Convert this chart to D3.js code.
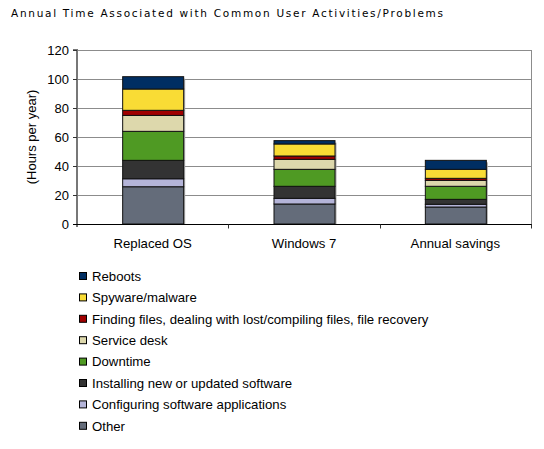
<!DOCTYPE html>
<html><head><meta charset="utf-8">
<script src="https://cdn.jsdelivr.net/npm/d3@7"></script>
<style>body{margin:0;background:#fff;} svg{display:block;}</style>
</head><body>
<script>
const categories = ["Replaced OS", "Windows 7", "Annual savings"];
const seriesNames = ["Other", "Configuring software applications", "Installing new or updated software", "Downtime", "Service desk", "Finding files, dealing with lost/compiling files, file recovery", "Spyware/malware", "Reboots"];
const other      = [25.7, 13.8, 11.7];
const configuring= [5.5, 3.9, 1.9];
const installing = [12.7, 8.3, 3.4];
const downtime   = [20.0, 11.7, 9.0];
const serviceDesk= [11.0, 6.9, 4.1];
const findingFiles=[3.5, 2.3, 1.4];
const spyware    = [14.7, 8.3, 6.2];
const reboots    = [8.5, 2.3, 6.2];
const yTicks = [0, 20, 40, 60, 80, 100, 120];
const colors = ["#646c7a", "#b4b4d8", "#333333", "#4f9a23", "#ddd8ac", "#a00000", "#f9dc35", "#002e62"];

const seriesValues = [other, configuring, installing, downtime, serviceDesk, findingFiles, spyware, reboots];
const table = categories.map((c, i) => {
  const row = {cat: c};
  seriesNames.forEach((s, j) => row[s] = seriesValues[j][i]);
  return row;
});

const W = 544, H = 449;
const m = {left: 77, right: 531, top: 50, bottom: 224};
const FONT = "Liberation Sans, Arial, sans-serif";
const svg = d3.select("body").append("svg").attr("width", W).attr("height", H);

const x = d3.scaleBand().domain(categories).range([m.left, m.right]).paddingInner(0).paddingOuter(0);
const y = d3.scaleLinear().domain([0, 120]).range([m.bottom, m.top]);

// title
svg.append("text").attr("x", 11).attr("y", 17)
  .attr("font-family", "DejaVu Sans, Verdana, sans-serif").attr("font-size", 10.5)
  .attr("textLength", 432).attr("lengthAdjust", "spacing").attr("fill", "#000")
  .text("Annual Time Associated with Common User Activities/Problems");

// gridlines
svg.append("g").selectAll("line").data(yTicks.filter(t => t > 0)).join("line")
  .attr("x1", m.left).attr("x2", m.right)
  .attr("y1", d => Math.round(y(d)) + 0.5).attr("y2", d => Math.round(y(d)) + 0.5)
  .attr("stroke", "#8c8c8c").attr("stroke-width", 1);
// right border
svg.append("line").attr("x1", m.right + 0.5).attr("x2", m.right + 0.5)
  .attr("y1", m.top).attr("y2", m.bottom).attr("stroke", "#8c8c8c");

// stacked bars
const stack = d3.stack().keys(seriesNames)(table);
const bw = 61;
const gBars = svg.append("g");
gBars.selectAll("rect.sh").data(table).join("rect").attr("class", "sh")
  .attr("x", d => x(d.cat) + x.bandwidth() / 2 - bw / 2 + 2)
  .attr("y", (d, i) => y(stack[stack.length - 1][i][1]) + 2)
  .attr("width", bw)
  .attr("height", (d, i) => m.bottom - y(stack[stack.length - 1][i][1]) - 2)
  .attr("fill", "#a8a8a8");
stack.forEach((s, j) => {
  gBars.append("g").selectAll("rect").data(s).join("rect")
    .attr("x", d => x(d.data.cat) + x.bandwidth() / 2 - bw / 2 + 0.5)
    .attr("y", d => y(d[1]))
    .attr("width", bw)
    .attr("height", d => y(d[0]) - y(d[1]))
    .attr("fill", colors[j]).attr("stroke", "#111").attr("stroke-width", 1);
});

// y axis
const yAxis = d3.axisLeft(y).tickValues(yTicks).tickSize(4).tickPadding(4);
const gy = svg.append("g").attr("transform", `translate(${m.left},0)`).call(yAxis);
gy.select(".domain").attr("stroke", "#777").attr("stroke-width", 2).attr("d", `M-4,${m.top}H0V${m.bottom + 3}`);
gy.selectAll(".tick line").attr("stroke", "#333");
gy.selectAll("text").attr("font-family", FONT).attr("font-size", 13).attr("fill", "#000");

// x axis
const gx = svg.append("g").attr("transform", `translate(0,${m.bottom + 0.5})`);
gx.append("line").attr("x1", m.left - 4).attr("x2", m.right + 1).attr("stroke", "#000");
gx.selectAll("line.t").data(categories).join("line").attr("class", "t")
  .attr("x1", d => Math.round(x(d) + x.bandwidth()) + 0.5).attr("x2", d => Math.round(x(d) + x.bandwidth()) + 0.5)
  .attr("y1", 0).attr("y2", 4).attr("stroke", "#333");
gx.selectAll("text").data(categories).join("text")
  .attr("x", d => x(d) + x.bandwidth() / 2).attr("y", 23)
  .attr("text-anchor", "middle").attr("font-family", FONT)
  .attr("font-size", 13.2).attr("fill", "#000").text(d => d);

// y label
svg.append("text").attr("transform", `translate(36,137) rotate(-90)`)
  .attr("text-anchor", "middle").attr("font-family", FONT)
  .attr("font-size", 13).attr("fill", "#000").text("(Hours per year)");

// legend (reverse order)
const legendItems = seriesNames.map((s, i) => ({name: s, color: colors[i]})).reverse();
const lg = svg.append("g").selectAll("g").data(legendItems).join("g")
  .attr("transform", (d, i) => `translate(79,${276 + i * 21.4})`);
lg.append("rect").attr("x", 0.5).attr("y", -3.5).attr("width", 7).attr("height", 7)
  .attr("fill", d => d.color).attr("stroke", "#000");
lg.append("text").attr("x", 13).attr("y", 4.8)
  .attr("font-family", FONT).attr("font-size", 13.2)
  .attr("fill", "#000").text(d => d.name);
</script>
</body></html>
